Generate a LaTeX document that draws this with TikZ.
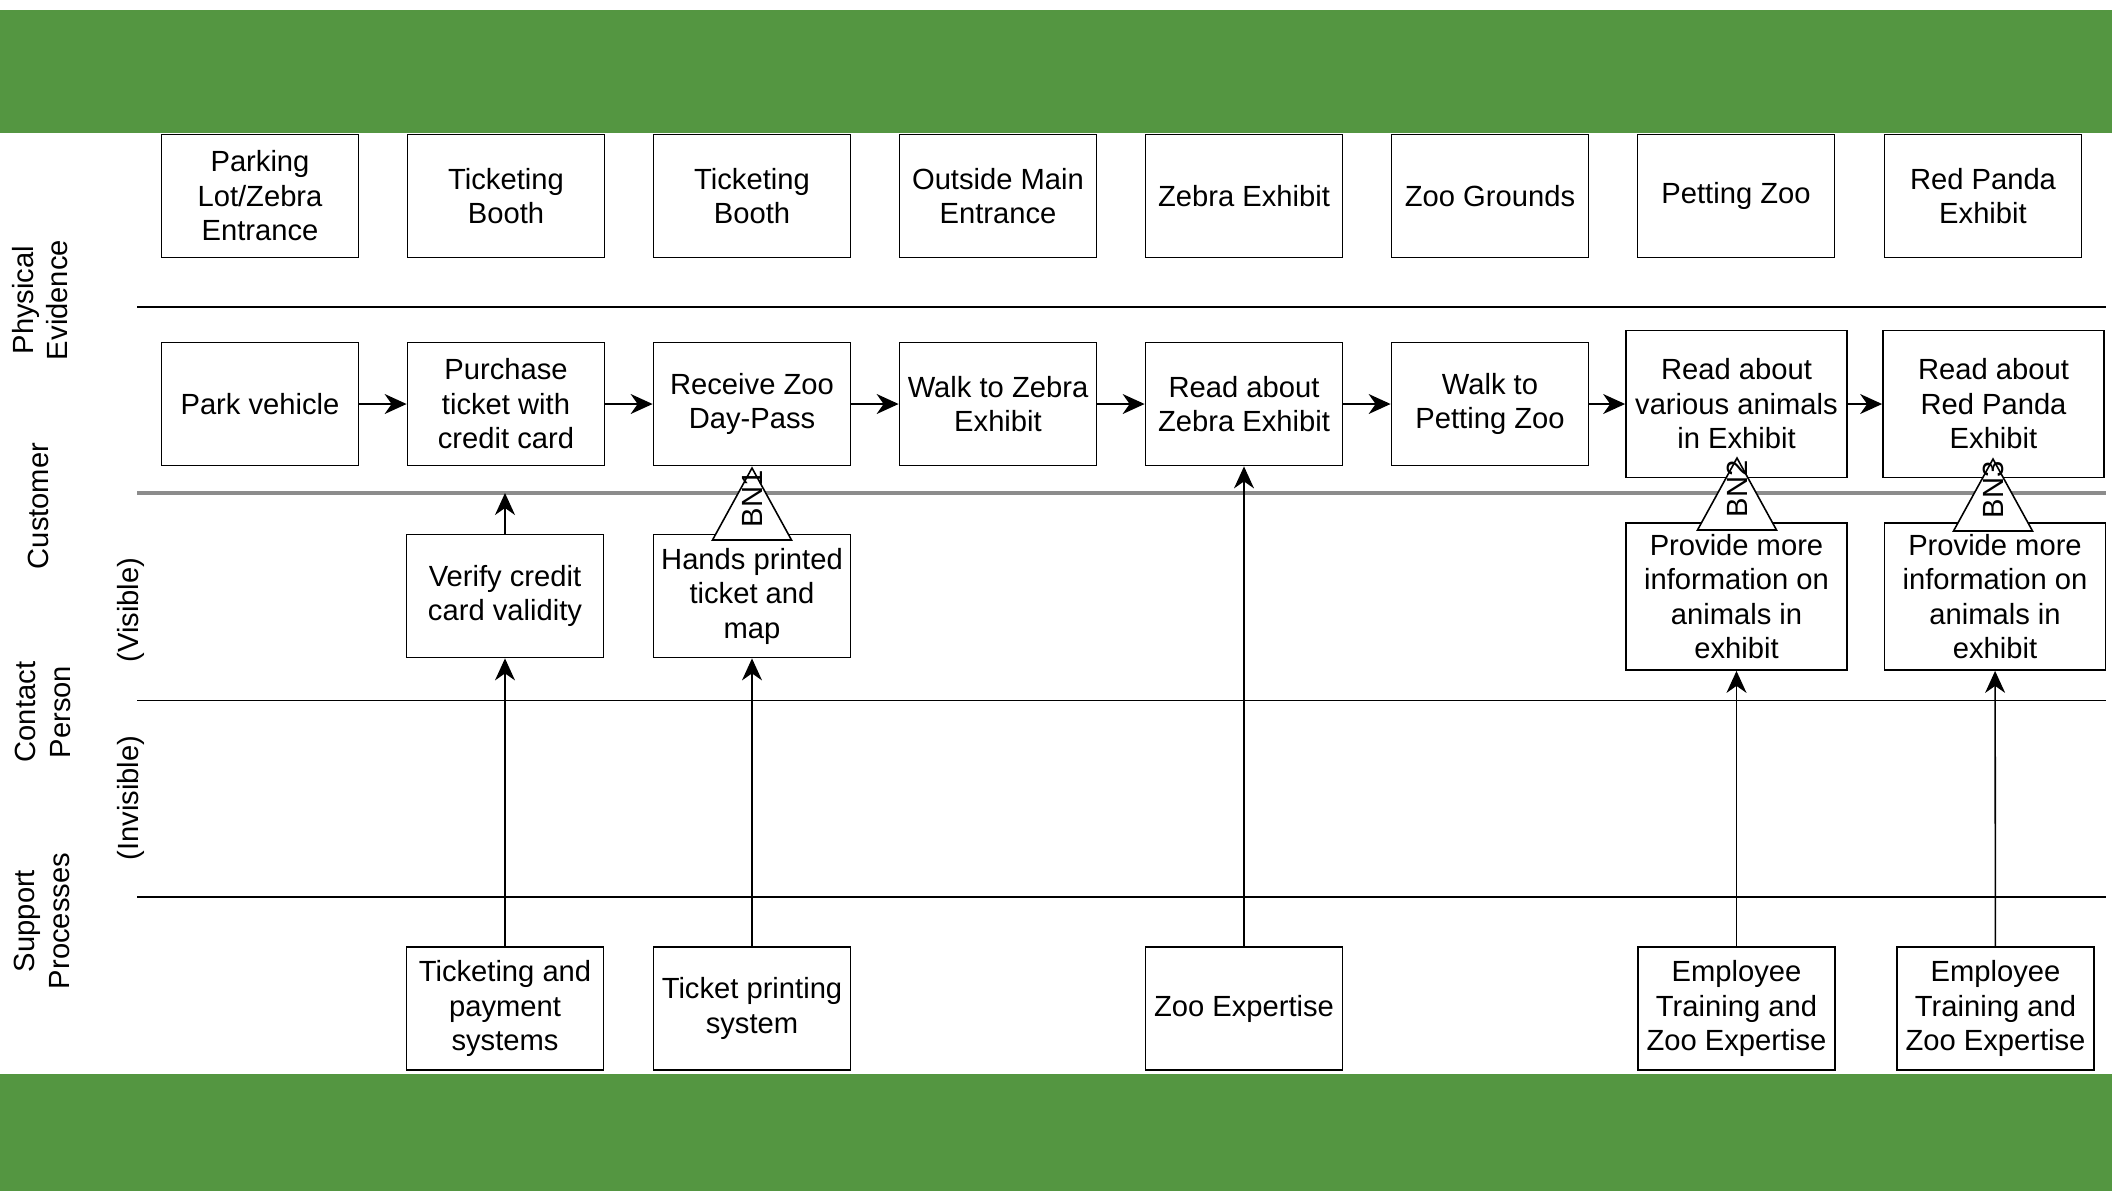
\documentclass[tikz,border=0pt]{standalone}
\usepackage{fontspec}
\setmainfont{Liberation Sans}
\usetikzlibrary{arrows.meta}
\usepackage{xcolor}
\definecolor{zoogreen}{RGB}{84,150,65}
\definecolor{lanegray}{RGB}{140,140,140}

\begin{document}
\begin{tikzpicture}[font=\fontsize{8.3}{9.8}\selectfont,
    box/.style={draw = black, line width=0.5pt, fill=white, align=center,
        minimum width=1.97cm, minimum height=1.23cm, inner sep=0pt},
    wide/.style={box, minimum width=2.21cm, minimum height=1.47cm},
    flow/.style={-{Stealth[length=2.2mm,width=2mm,inset=0.7mm]}, line width=0.45pt},
    lane/.style={line width=0.45pt},
    bn/.style={draw = black, line width=0.45pt, fill=white}]

\useasboundingbox (0,0) rectangle (21.12,-11.91);

% green bands
\fill[zoogreen] (0,-0.10) rectangle (21.12,-1.33);
\fill[zoogreen] (0,-10.74) rectangle (21.12,-11.91);

% lanes
\draw[lane] (1.37,-3.07) -- (21.06,-3.07);
\draw[lane, draw=lanegray, line width=1.1pt] (1.37,-4.93) -- (21.06,-4.93);
\draw[lane] (1.37,-7.005) -- (21.06,-7.005);
\draw[lane] (1.37,-8.97) -- (21.06,-8.97);

\node[rotate=90, align=center] (lpe) at (0.40,-3.00) {Physical\\Evidence};
\node[rotate=90] (lcu) at (0.38,-5.06) {Customer};
\node[rotate=90, align=center] (lcp) at (0.43,-7.12) {Contact\\Person};
\node[rotate=90, align=center] (lsp) at (0.42,-9.21) {Support\\Processes};
\node[rotate=90] (lvis) at (1.31,-6.10) {(Visible)};
\node[rotate=90] (linv) at (1.31,-7.98) {(Invisible)};

% physical evidence
\node[box](pe1) at (2.60,-1.96){Parking\\Lot/Zebra\\Entrance};
\node[box](pe2) at (5.06,-1.96){Ticketing\\Booth};
\node[box](pe3) at (7.52,-1.96){Ticketing\\Booth};
\node[box](pe4) at (9.98,-1.96){Outside Main\\Entrance};
\node[box](pe5) at (12.44,-1.96){Zebra Exhibit};
\node[box](pe6) at (14.90,-1.96){Zoo Grounds};
\node[box](pe7) at (17.36,-1.96){Petting Zoo};
\node[box](pe8) at (19.83,-1.96){Red Panda\\Exhibit};

% customer
\node[box](c1) at (2.60,-4.04){Park vehicle};
\node[box](c2) at (5.06,-4.04){Purchase\\ticket with\\credit card};
\node[box](c3) at (7.52,-4.04){Receive Zoo\\Day-Pass};
\node[box](c4) at (9.98,-4.04){Walk to Zebra\\Exhibit};
\node[box](c5) at (12.44,-4.04){Read about\\Zebra Exhibit};
\node[box](c6) at (14.90,-4.04){Walk to\\Petting Zoo};
\node[wide](c7) at (17.365,-4.04){Read about\\various animals\\in Exhibit};
\node[wide](c8) at (19.935,-4.04){Read about\\Red Panda\\Exhibit};

% contact person
\node[box](cp1) at (5.05,-5.96){Verify credit\\card validity};
\node[box](cp2) at (7.52,-5.96){Hands printed\\ticket and\\map};
\node[wide](cp3) at (17.365,-5.965){Provide more\\information on\\animals in\\exhibit};
\node[wide](cp4) at (19.95,-5.965){Provide more\\information on\\animals in\\exhibit};

% support processes
\node[box](sp1) at (5.05,-10.085){Ticketing and\\payment\\systems};
\node[box](sp2) at (7.52,-10.085){Ticket printing\\system};
\node[box](sp3) at (12.44,-10.085){Zoo Expertise};
\node[box](sp4) at (17.365,-10.085){Employee\\Training and\\Zoo Expertise};
\node[box](sp5) at (19.955,-10.085){Employee\\Training and\\Zoo Expertise};

\path[flow] (c1) edge (c2)
    (c2) edge (c3)
    (c3) edge (c4)
    (c4) edge (c5)
    (c5) edge (c6)
    (c6) edge (c7)
    (c7) edge (c8);

\coordinate (g2) at (5.05,-4.93);
\path[flow] (cp1) edge (g2)
    (sp1) edge (cp1)
    (sp2) edge (cp2)
    (sp3) edge (c5)
    (sp4) edge (cp3)
    (sp5) edge (cp4);

% bottlenecks
\coordinate (bn1) at (7.52,-4.68);
\coordinate (bn2) at (17.37,-4.58);
\coordinate (bn3) at (19.93,-4.59);
\draw[bn] (bn1) -- ++(-0.395,-0.72) -- ++(0.79,0) -- cycle;
\draw[bn] (bn2) -- ++(-0.395,-0.72) -- ++(0.79,0) -- cycle;
\draw[bn] (bn3) -- ++(-0.395,-0.72) -- ++(0.79,0) -- cycle;
\node[rotate=90] (t1) at ([yshift=-0.31cm]bn1) {BN1};
\node[rotate=90] (t2) at ([yshift=-0.31cm]bn2) {BN2};
\node[rotate=90] (t3) at ([yshift=-0.31cm]bn3) {BN3};

\end{tikzpicture}
\end{document}
